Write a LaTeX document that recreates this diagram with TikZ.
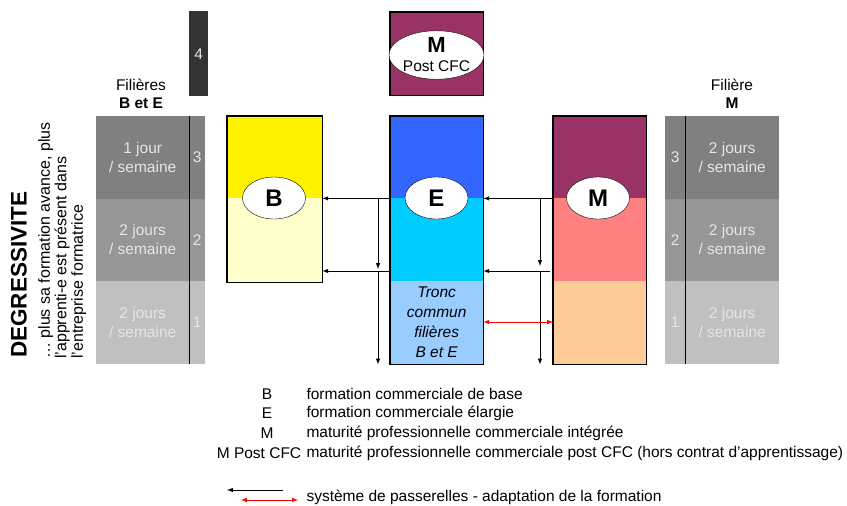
\documentclass[tikz,border=0pt]{standalone}
\usepackage{fontspec}
\setmainfont{Liberation Sans}
\usetikzlibrary{shapes.geometric,calc}

\definecolor{plum}{HTML}{993366}
\definecolor{salmon}{HTML}{FF8080}
\definecolor{peach}{HTML}{FFCC99}
\definecolor{royal}{HTML}{3366FF}
\definecolor{sky}{HTML}{00CCFF}
\definecolor{pale}{HTML}{99CCFF}
\definecolor{cream}{HTML}{FFFFCC}
\definecolor{gthree}{HTML}{808080}
\definecolor{gtwo}{HTML}{969696}
\definecolor{gone}{HTML}{C0C0C0}
\definecolor{gfour}{HTML}{333333}

\begin{document}
\begin{tikzpicture}[>=latex, x=1pt, y=-1pt,
    daycell/.style={fill=#1, anchor=north west, inner sep=0pt, minimum height=82.5pt,
      text=white!90!black, align=center, font=\fontsize{15.5}{19}\selectfont},
    bar/.style={fill=#1, anchor=north west, inner sep=0pt, minimum width=93pt},
    frame/.style={line width=1.6pt},
    oval/.style={ellipse, draw, fill=white, inner sep=0pt, minimum width=63pt,
      minimum height=42pt, font=\fontsize{24}{26}\selectfont\bfseries},
    txt/.style={font=\fontsize{15.5}{18}\selectfont},
    link/.style={->, line width=1pt}]
  \useasboundingbox (0,0) rectangle (847,506);

  % titre vertical
  \node[rotate=90, anchor=west, inner sep=0pt, font=\fontsize{22.5}{24}\selectfont\bfseries]
    (degr) at (19,358) {DEGRESSIVITE};
  \node[rotate=90, anchor=north west, inner sep=0pt, align=left,
    font=\fontsize{16}{16.5}\selectfont] (degrtxt) at (38,359)
    {\dots\ plus sa formation avance, plus\\l'apprenti-e est présent dans\\l'entreprise formatrice};

  % colonne filières B et E
  \node[txt, align=center] (lhead) at (141,94) {Filières\\\textbf{B et E}};
  \node[daycell=gthree, minimum width=93pt] (lday3) at (96,116) {1 jour\\/ semaine};
  \node[daycell=gthree, minimum width=16pt] (lnum3) at (189,116) {3};
  \node[daycell=gtwo, minimum width=93pt] (lday2) at (96,198.5) {2 jours\\/ semaine};
  \node[daycell=gtwo, minimum width=16pt] (lnum2) at (189,198.5) {2};
  \node[daycell=gone, minimum width=93pt] (lday1) at (96,281) {2 jours\\/ semaine};
  \node[daycell=gone, minimum width=16pt] (lnum1) at (189,281) {1};
  \draw[line width=1pt] (lnum3.north west) -- (lnum1.south west);
  \node[daycell=gfour, minimum width=19pt, minimum height=85pt] (year4) at (189,11) {4};

  % colonne filière M
  \node[txt, align=center] (rhead) at (732,94) {Filière\\\textbf{M}};
  \node[daycell=gthree, minimum width=20pt] (rnum3) at (665,116) {3};
  \node[daycell=gthree, minimum width=94pt] (rday3) at (685,116) {2 jours\\/ semaine};
  \node[daycell=gtwo, minimum width=20pt] (rnum2) at (665,198.5) {2};
  \node[daycell=gtwo, minimum width=94pt] (rday2) at (685,198.5) {2 jours\\/ semaine};
  \node[daycell=gone, minimum width=20pt] (rnum1) at (665,281) {1};
  \node[daycell=gone, minimum width=94pt] (rday1) at (685,281) {2 jours\\/ semaine};
  \draw[line width=1pt] (rday3.north west) -- (rday1.south west);

  % B
  \node[bar=yellow, minimum width=95pt, minimum height=82pt] (b1) at (227,116) {};
  \node[bar=cream, minimum width=95pt, minimum height=84pt] (b2) at (227,198) {};
  \draw[frame] (b1.north west) rectangle (b2.south east);
  \node[oval] (bo) at (274,198) {B};

  % E
  \node[bar=royal, minimum height=82pt] (e1) at (390,116) {};
  \node[bar=sky, minimum height=83pt] (e2) at (390,198) {};
  \node[bar=pale, minimum height=83pt] (e3) at (390,281) {};
  \draw[frame] (e1.north west) rectangle (e3.south east);
  \node[oval] (eo) at (436.5,198) {E};
  \node[align=center, font=\fontsize{15.5}{20}\selectfont\itshape] (tronc) at (e3.center)
    {Tronc\\commun\\filières\\B et E};

  % M
  \node[bar=plum, minimum height=82pt] (m1) at (553,116) {};
  \node[bar=salmon, minimum height=83pt] (m2) at (553,198) {};
  \node[bar=peach, minimum height=83pt] (m3) at (553,281) {};
  \draw[frame] (m1.north west) rectangle (m3.south east);
  \node[oval] (mo) at (598,198) {M};

  % M Post CFC
  \node[bar=plum, minimum height=83pt] (mpost) at (390,12) {};
  \draw[frame] (mpost.north west) rectangle (mpost.south east);
  \node[oval, minimum width=89pt, minimum height=47pt, align=center, font=\fontsize{15.5}{19}\selectfont]
    (mposto) at (436.5,55) {{\fontsize{22}{20}\selectfont\bfseries M}\\Post CFC};

  % passerelles
  \coordinate (lowrow) at (0,271);
  \coordinate (lrail) at (378,0);
  \coordinate (rrail) at (540,0);
  \draw[link] (e1.south west) -- (b1.south east);
  \draw[link] (e2.west |- lowrow) -- (b2.east |- lowrow);
  \draw[link] (lrail |- b1.south) -- ($(lrail |- lowrow)+(0,-2)$);
  \draw[link] (lrail |- lowrow) -- (lrail |- e3.south);
  \draw[link] (m1.south west) -- (e1.south east);
  \draw[link] ($(m2.west |- lowrow)+(-3,0)$) -- (e2.east |- lowrow);
  \draw[link] (rrail |- m1.south) -- ($(rrail |- lowrow)+(0,-5)$);
  \draw[link] (rrail |- lowrow) -- (rrail |- e3.south);
  \coordinate (redrow) at (0,322);
  \draw[<->, red, line width=1pt] (e3.east |- redrow) -- (m3.west |- redrow);

  % legende
  \node[txt] (kb) at (267,394) {B};
  \node[txt] (ke) at (267,413) {E};
  \node[txt] (km) at (267,433) {M};
  \node[txt] (kp) at (259,453) {M Post CFC};
  \node[txt, anchor=west] (db) at (303,394) {formation commerciale de base};
  \node[txt, anchor=west] (de) at (303,413) {formation commerciale élargie};
  \node[txt, anchor=west] (dm) at (303,433) {maturité professionnelle commerciale intégrée};
  \node[txt, anchor=west] (dp) at (303,453) {maturité professionnelle commerciale post CFC (hors contrat d'apprentissage)};
  \coordinate (la1) at (283,490);
  \coordinate (la2) at (227,490);
  \coordinate (lr1) at (241,500);
  \coordinate (lr2) at (298,500);
  \draw[link] (la1) -- (la2);
  \draw[<->, red, line width=1pt] (lr1) -- (lr2);
  \node[txt, anchor=west] (dl) at (303,497) {système de passerelles - adaptation de la formation};
\end{tikzpicture}
\end{document}
